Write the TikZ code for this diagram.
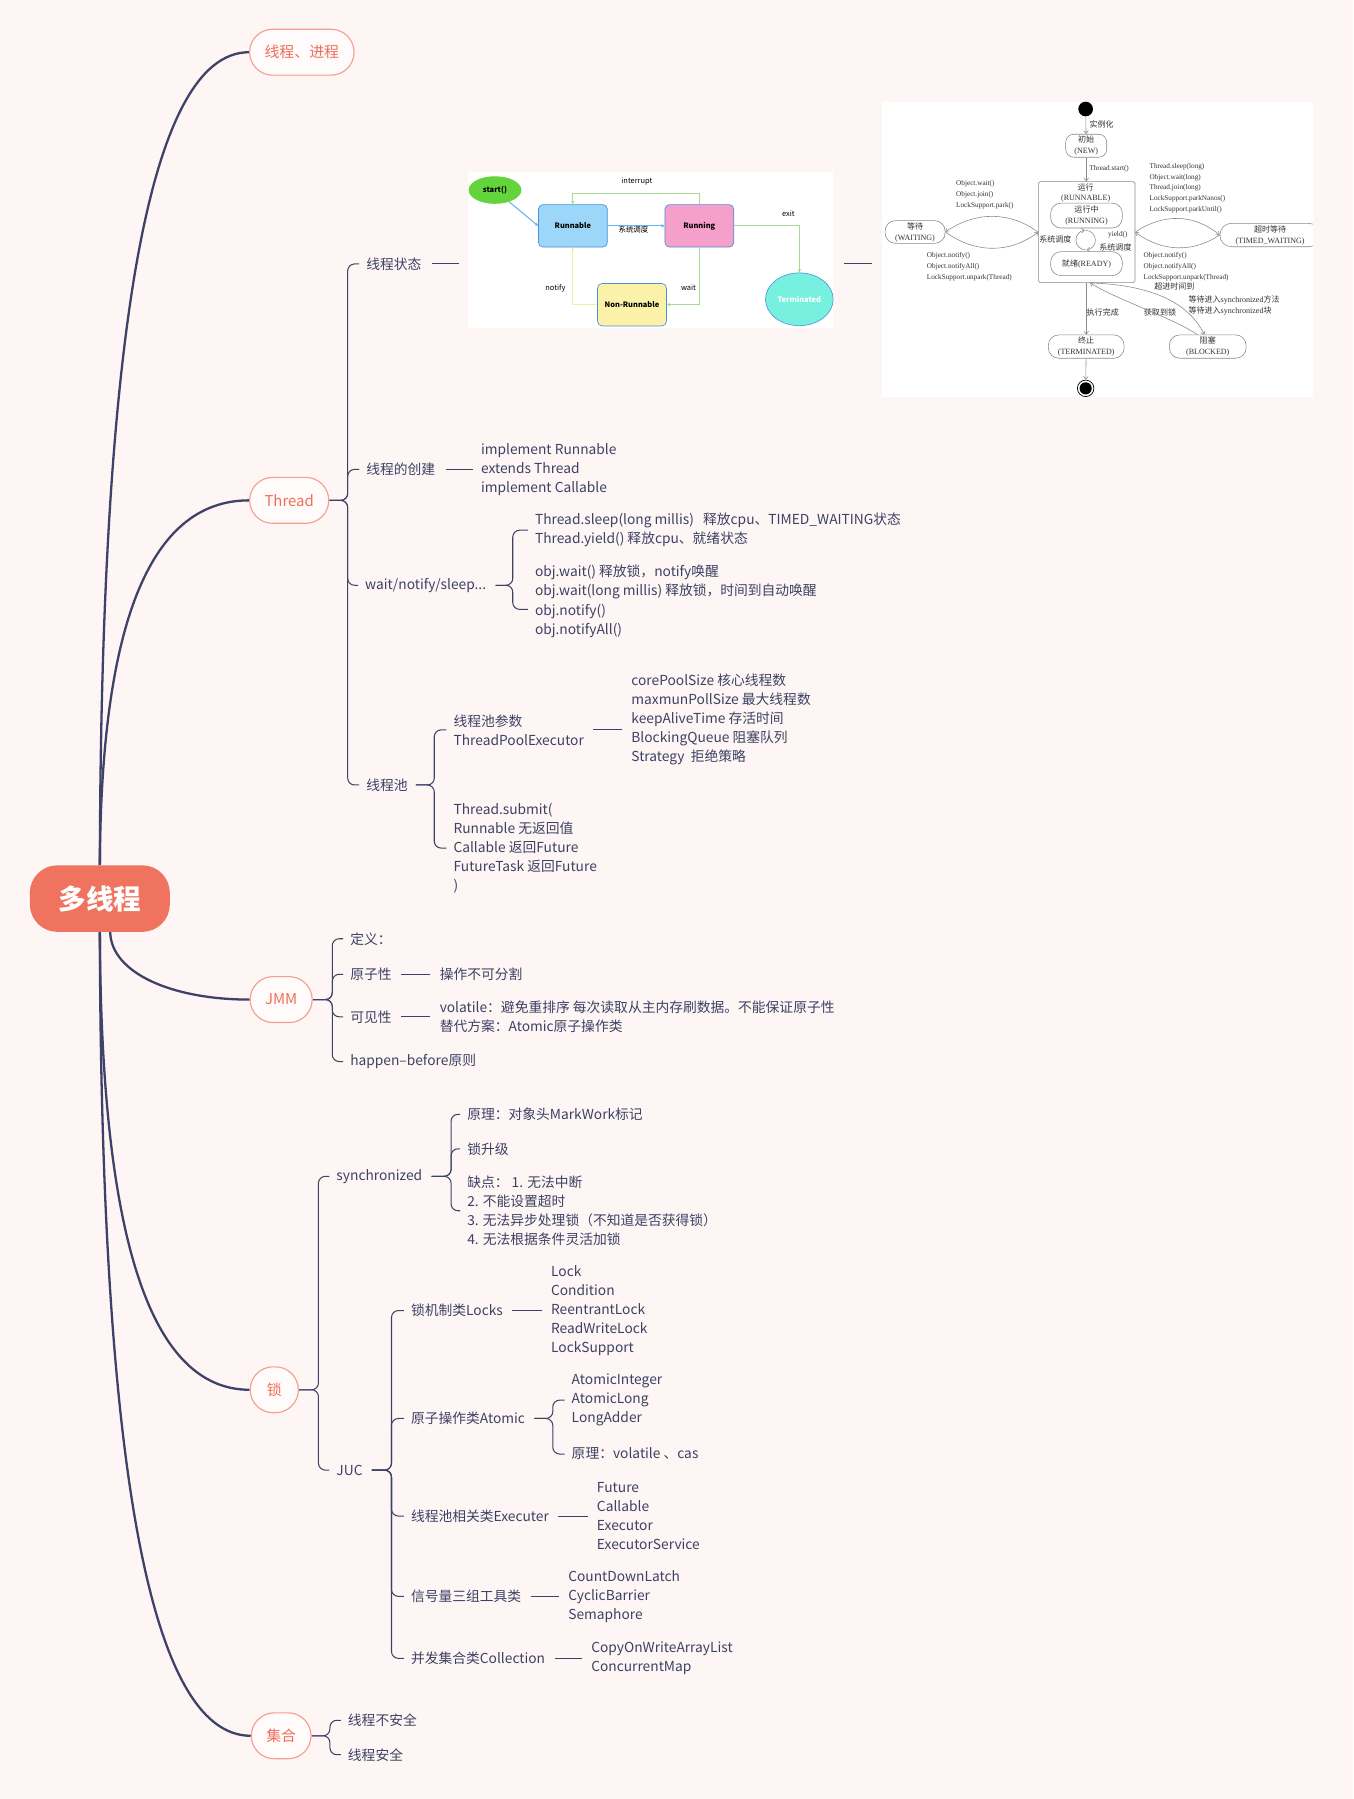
\documentclass[tikz,border=0pt]{standalone}
\usepackage{fontspec}
\setmainfont{Noto Sans CJK SC}
\newfontfamily\serifl{Liberation Serif}
\usetikzlibrary{arrows.meta,shapes.geometric,calc}
\pgfdeclarelayer{back}
\pgfdeclarelayer{conn}
\pgfsetlayers{back,conn,main}
\definecolor{bgc}{HTML}{FEF6F4}
\definecolor{rootc}{HTML}{F07360}
\definecolor{lonetext}{HTML}{EF6E5A}
\definecolor{loneborder}{HTML}{F2A08F}
\definecolor{lonefill}{HTML}{FFFBFA}
\definecolor{linec}{HTML}{3E4268}
\definecolor{txtc}{HTML}{3D4164}
\definecolor{startg}{HTML}{63D43B}
\definecolor{runb}{HTML}{9CD7FA}
\definecolor{runp}{HTML}{F59FCB}
\definecolor{nry}{HTML}{FCF1A9}
\definecolor{termc}{HTML}{77F0E0}
\definecolor{boxb}{HTML}{4A90D9}
\definecolor{grl}{HTML}{A9D98F}
\definecolor{yel}{HTML}{F4EDA6}
\definecolor{bll}{HTML}{62B3F0}
\definecolor{gra}{HTML}{8A8A8A}
\definecolor{grt}{HTML}{333333}
\tikzset{
  lone/.style={draw=loneborder, line width=1pt, fill=lonefill, text=lonetext, rounded corners=20pt, minimum height=40pt, minimum width=42pt, inner xsep=13pt, inner ysep=0pt, font=\fontsize{13}{15}\selectfont},
  rootn/.style={fill=rootc, text=white, rounded corners=24pt, minimum width=122pt, minimum height=58pt, font=\bfseries\fontsize{24}{28}\selectfont},
  txt/.style={anchor=west, inner sep=0pt, align=left, text=txtc, font=\fontsize{12}{16.6}\selectfont},
  trunk/.style={draw=linec, line width=2pt},
  twig/.style={draw=linec, line width=0.9pt},
  bracepath/.style={twig, rounded corners=6pt},
  sbox/.style={draw=boxb, line width=0.6pt, rounded corners=4pt, minimum width=60pt, minimum height=37pt, inner sep=0pt, font=\bfseries\fontsize{6.5}{8}\selectfont, text=black},
  slab/.style={inner sep=0pt, font=\fontsize{6.5}{8}\selectfont, text=black},
  sarrow/.style={line width=0.9pt, -{Stealth[length=3pt,width=3pt]}},
  ubox/.style={draw=gra, line width=0.5pt, rounded corners=8pt, inner sep=0pt, align=center, text=grt, font=\fontsize{7}{9.6}\selectfont},
  ulab/.style={inner sep=0pt, text=grt, font=\serifl\fontsize{6.3}{9.4}\selectfont},
  ucl/.style={inner sep=0pt, text=grt, font=\fontsize{7}{9.4}\selectfont},
  uarr/.style={draw=gra, line width=0.5pt, -{Straight Barb[length=2.5pt,width=4pt]}},
}
\begin{document}
\begin{tikzpicture}[x=1pt,y=-1pt]
\begin{pgfonlayer}{back}
\fill[bgc] (0,0) rectangle (1179,1567.6);
\end{pgfonlayer}
\useasboundingbox (0,0) rectangle (1179,1567.6);

% ---------- root and level 1
\node[rootn] (root) at (87,783) {多线程};
\node[lone] (n1) at (263,45.5) {线程、进程};
\node[lone] (n2) at (252,436) {Thread};
\node[lone] (n3) at (245,871) {JMM};
\node[lone] (n4) at (239,1211) {锁};
\node[lone] (n5) at (245,1512.5) {集合};

% ---------- Thread branch
\node[txt] (s1) at (319,230) {线程状态};
\node[txt] (s2) at (319,409) {线程的创建};
\node[txt] (s3) at (318,510) {wait/notify/sleep...};
\node[txt] (s4) at (319,684) {线程池};
\node[txt] (g2) at (419,409) {implement Runnable\\extends Thread\\implement Callable};
\node[txt] (g3a) at (466,462) {Thread.sleep(long millis)\ \ \ 释放cpu、TIMED\_WAITING状态\\Thread.yield() 释放cpu、就绪状态};
\node[txt] (g3b) at (466,524) {obj.wait() 释放锁，notify唤醒\\obj.wait(long millis) 释放锁，时间到自动唤醒\\obj.notify()\\obj.notifyAll()};
\node[txt] (g4a) at (395,636) {线程池参数\\ThreadPoolExecutor};
\node[txt] (g4a1) at (550,627) {corePoolSize 核心线程数\\maxmunPollSize 最大线程数\\keepAliveTime 存活时间\\BlockingQueue 阻塞队列\\Strategy\ \ 拒绝策略};
\node[txt] (g4b) at (395,739) {Thread.submit(\\Runnable 无返回值\\Callable 返回Future\\FutureTask 返回Future\\)};

% ---------- JMM branch
\node[txt] (j1) at (305,818) {定义：};
\node[txt] (j2) at (305,849) {原子性};
\node[txt] (j3) at (305,886) {可见性};
\node[txt] (j4) at (305,925) {happen–before原则};
\node[txt] (jj2) at (383,849) {操作不可分割};
\node[txt] (jj3) at (383,886) {volatile：避免重排序 每次读取从主内存刷数据。不能保证原子性\\替代方案：Atomic原子操作类};

% ---------- lock branch
\node[txt] (k1) at (293,1025) {synchronized};
\node[txt] (k2) at (293,1281) {JUC};
\node[txt] (m1) at (407,971) {原理：对象头MarkWork标记};
\node[txt] (m2) at (407,1001) {锁升级};
\node[txt] (m3) at (407,1055) {缺点： 1. 无法中断\\2. 不能设置超时\\3. 无法异步处理锁（不知道是否获得锁）\\4. 无法根据条件灵活加锁};
\node[txt] (u1) at (358,1142) {锁机制类Locks};
\node[txt] (u2) at (358,1236) {原子操作类Atomic};
\node[txt] (u3) at (358,1321) {线程池相关类Executer};
\node[txt] (u4) at (358,1391) {信号量三组工具类};
\node[txt] (u5) at (358,1445) {并发集合类Collection};
\node[txt] (v1) at (480,1142) {Lock\\Condition\\ReentrantLock\\ReadWriteLock\\LockSupport};
\node[txt] (a1) at (498,1220) {AtomicInteger\\AtomicLong\\LongAdder};
\node[txt] (a2) at (498,1267) {原理：volatile 、cas};
\node[txt] (v3) at (520,1321) {Future\\Callable\\Executor\\ExecutorService};
\node[txt] (v4) at (495,1391) {CountDownLatch\\CyclicBarrier\\Semaphore};
\node[txt] (v5) at (515,1445) {CopyOnWriteArrayList\\ConcurrentMap};

% ---------- collection branch
\node[txt] (h1) at (303,1499) {线程不安全};
\node[txt] (h2) at (303,1529) {线程安全};

% ---------- image 1 : simple state diagram
\node[fill=white, minimum width=318pt, minimum height=136pt, inner sep=0pt, anchor=north west] (img1) at (408,150) {};
\node[ellipse, fill=startg, minimum width=46pt, minimum height=24pt, inner sep=0pt, font=\bfseries\fontsize{6.5}{8}\selectfont] (st) at (431.3,165.6) {start()};
\node[sbox, fill=runb] (rn) at (499.2,196.8) {Runnable};
\node[sbox, fill=runp] (rg) at (609.4,196.8) {Running};
\node[sbox, fill=nry] (nr) at (550.7,265.5) {Non-Runnable};
\node[ellipse, draw=boxb, line width=0.5pt, fill=termc, minimum width=59pt, minimum height=46pt, inner sep=0pt, text=white, font=\bfseries\fontsize{6.5}{8}\selectfont] (tm) at (696.5,260.8) {Terminated};
\node[slab] (lint) at (555,158) {interrupt};
\node[slab] (lexit) at (687,186) {exit};
\node[slab] (lsys) at (552,200.5) {系统调度};
\node[slab] (lnot) at (484,251) {notify};
\node[slab] (lwait) at (600,251) {wait};
\draw[sarrow, draw=bll] (st) -- (rn.west);
\draw[sarrow, draw=bll] (rn.east) -- (rg.west);
\draw[sarrow, draw=grl] (rg.north) -- ++(0,-9.5) -| (rn.north);
\draw[sarrow, draw=grl] (rg.south) |- (nr.east);
\draw[sarrow, draw=yel] (nr.west) -| (rn.south);
\draw[sarrow, draw=grl] (rg.east) -| (tm.north);

% ---------- image 2 : UML thread states
\node[fill=white, minimum width=376pt, minimum height=257pt, inner sep=0pt, anchor=north west] (img2) at (768,89) {};
\begin{scope}
\clip (768,89) rectangle (1144,346);
\node[ubox, minimum width=87.4pt, minimum height=20.4pt, rounded corners=10pt] (tw) at (1106.7,204.8) {超时等待\\{\serifl (TIMED\_WAITING)}};
\end{scope}
\node[circle, fill=black, minimum size=12.8pt, inner sep=0pt] (s0) at (946,95) {};
\node[ucl] (linst) at (960,108) {实例化};
\node[ubox, minimum width=35.8pt, minimum height=20pt, rounded corners=7pt] (nw) at (946.5,127) {初始\\{\serifl (NEW)}};
\node[ulab, anchor=west] (lts) at (949,147.3) {Thread.start()};
\node[draw=gra, line width=0.5pt, rounded corners=1.5pt, minimum width=84.2pt, minimum height=88pt, inner sep=0pt] (rb) at (946.9,202.3) {};
\node[ucl] (lyx) at (946,163.3) {运行};
\node[ulab, font=\serifl\fontsize{7}{9.4}\selectfont] (lrb) at (946,172.8) {(RUNNABLE)};
\node[ubox, minimum width=62.5pt, minimum height=21.7pt, rounded corners=9pt] (rr) at (946.75,187.85) {运行中\\{\serifl (RUNNING)}};
\node[ubox, minimum width=62.5pt, minimum height=20.9pt, rounded corners=9pt] (rd) at (946.75,229.75) {就绪{\serifl (READY)}};
\node[ubox, minimum width=52.3pt, minimum height=19.7pt, rounded corners=9pt] (wt) at (797.35,202.15) {等待\\{\serifl (WAITING)}};
\node[ubox, minimum width=66pt, minimum height=20.3pt, rounded corners=9pt] (te) at (946.5,302) {终止\\{\serifl (TERMINATED)}};
\node[ubox, minimum width=66.8pt, minimum height=20.3pt, rounded corners=9pt] (bk) at (1052.4,302) {阻塞\\{\serifl (BLOCKED)}};
\node[circle, draw=black, line width=0.6pt, minimum size=14.4pt, inner sep=0pt] (e0) at (946,338.4) {};
\fill[black] (e0.center) circle (5.3pt);
\node[ulab, anchor=west, align=left] (lwl) at (833,169.6) {Object.wait()\\Object.join()\\LockSupport.park()};
\node[ulab, anchor=west, align=left] (lwn) at (807.5,232.3) {Object.notify()\\Object.notifyAll()\\LockSupport.unpark(Thread)};
\node[ulab, anchor=west, align=left] (ltw) at (1001.5,164) {Thread.sleep(long)\\Object.wait(long)\\Thread.join(long)\\LockSupport.parkNanos()\\LockSupport.parkUntil()};
\node[ulab, anchor=west, align=left] (ltn) at (996.3,232.3) {Object.notify()\\Object.notifyAll()\\LockSupport.unpark(Thread)};
\node[ucl] (lsd1) at (919.6,208.3) {系统调度};
\node[ulab] (lyd) at (974,205) {yield()};
\node[ucl] (lsd2) at (972,215.3) {系统调度};
\node[ucl, anchor=west] (lcs) at (1005.6,249.2) {超进时间到};
\node[ucl] (lzx) at (960.9,272.4) {执行完成};
\node[ucl] (lhq) at (1010.8,272.4) {获取到锁};
\node[ucl, anchor=west, align=left] (ldd) at (1035.5,266) {等待进入{\serifl synchronized}方法\\等待进入{\serifl synchronized}块};
\draw[uarr] (s0) -- (nw);
\draw[uarr] (nw.south) -- (nw.south |- rb.north);
\draw[uarr] (te.north |- rb.south) -- (te.north);
\draw[uarr] (te) -- (e0);
\draw[uarr] (rb.west) .. controls (880,184) and (850,184) .. (wt.east);
\draw[uarr] (wt.east) .. controls (850,221) and (880,221) .. (rb.west);
\draw[uarr] (rb.east) .. controls (1013,186) and (1040,186) .. (tw.west);
\draw[uarr] (tw.west) .. controls (1040,220) and (1013,220) .. (rb.east);
\coordinate (cy) at (946,209.2);
\draw[uarr] ([yshift=-8.5pt]cy) arc[start angle=270, end angle=95, radius=8.5pt];
\draw[uarr] ([yshift=8.5pt]cy) arc[start angle=90, end angle=-85, radius=8.5pt];
\draw[uarr] ([xshift=3pt]rb.south) .. controls (1000,248) and (1035,262) .. ([xshift=-3pt]bk.north);
\draw[uarr] ([xshift=-9pt]bk.north) .. controls (1020,276) and (975,262) .. ([xshift=3pt]rb.south);

% ---------- connectors of the map
\begin{pgfonlayer}{conn}
\draw[trunk] (root.north) .. controls (88,300) and (128,45.5) .. (n1.west);
\draw[trunk] (root.north) .. controls (88,550) and (128,436) .. (n2.west);
\draw[trunk] ([xshift=9pt]root.south) .. controls (97,848) and (150,871) .. (n3.west);
\draw[trunk] (root.south) .. controls (88,1070) and (128,1211) .. (n4.west);
\draw[trunk] (root.south) .. controls (88,1265) and (128,1512.5) .. (n5.west);
\foreach \c in {s1,s2,s3,s4} \draw[bracepath] (n2.east) -- ++(16,0) |- ([xshift=-6pt]\c.west);
\foreach \c in {j1,j2,j3,j4} \draw[bracepath] (n3.east) -- ++(17,0) |- ([xshift=-6pt]\c.west);
\foreach \c in {k1,k2} \draw[bracepath] (n4.east) -- ++(17,0) |- ([xshift=-6pt]\c.west);
\foreach \c in {h1,h2} \draw[bracepath] (n5.east) -- ++(16,0) |- ([xshift=-6pt]\c.west);
\draw[bracepath] ([xshift=8pt]s3.east) -- ++(15,0) |- ([xshift=-6pt]g3a.west);
\draw[bracepath] ([xshift=8pt]s3.east) -- ++(15,0) |- ([xshift=-6pt,yshift=-7pt]g3b.west);
\foreach \c in {g4a,g4b} \draw[bracepath] ([xshift=7pt]s4.east) -- ++(16,0) |- ([xshift=-6pt]\c.west);
\foreach \c in {m1,m2,m3} \draw[bracepath] ([xshift=8pt]k1.east) -- ++(17,0) |- ([xshift=-6pt]\c.west);
\foreach \c in {u1,u2,u3,u4,u5} \draw[bracepath] ([xshift=8pt]k2.east) -- ++(17,0) |- ([xshift=-6pt]\c.west);
\foreach \c in {a1,a2} \draw[bracepath] ([xshift=8pt]u2.east) -- ++(16,0) |- ([xshift=-6pt]\c.west);
\draw[twig] ([xshift=9pt]s1.east) -- ([xshift=-8pt]img1.west |- s1.east);
\draw[twig] ([xshift=9pt]img1.east |- s1.east) -- ([xshift=-8pt]img2.west |- s1.east);
\draw[twig] ([xshift=9pt]s2.east) -- ([xshift=-7pt]g2.west |- s2.east);
\draw[twig] ([xshift=8pt]g4a.east) -- ([xshift=-8pt]g4a1.west |- g4a.east);
\draw[twig] ([xshift=8pt]j2.east) -- ([xshift=-8pt]jj2.west |- j2.east);
\draw[twig] ([xshift=8pt]j3.east) -- ([xshift=-8pt]jj3.west |- j3.east);
\draw[twig] ([xshift=8pt]u1.east) -- ([xshift=-8pt]v1.west |- u1.east);
\draw[twig] ([xshift=8pt]u3.east) -- ([xshift=-8pt]v3.west |- u3.east);
\draw[twig] ([xshift=8pt]u4.east) -- ([xshift=-8pt]v4.west |- u4.east);
\draw[twig] ([xshift=8pt]u5.east) -- ([xshift=-8pt]v5.west |- u5.east);
\end{pgfonlayer}
\end{tikzpicture}
\end{document}
